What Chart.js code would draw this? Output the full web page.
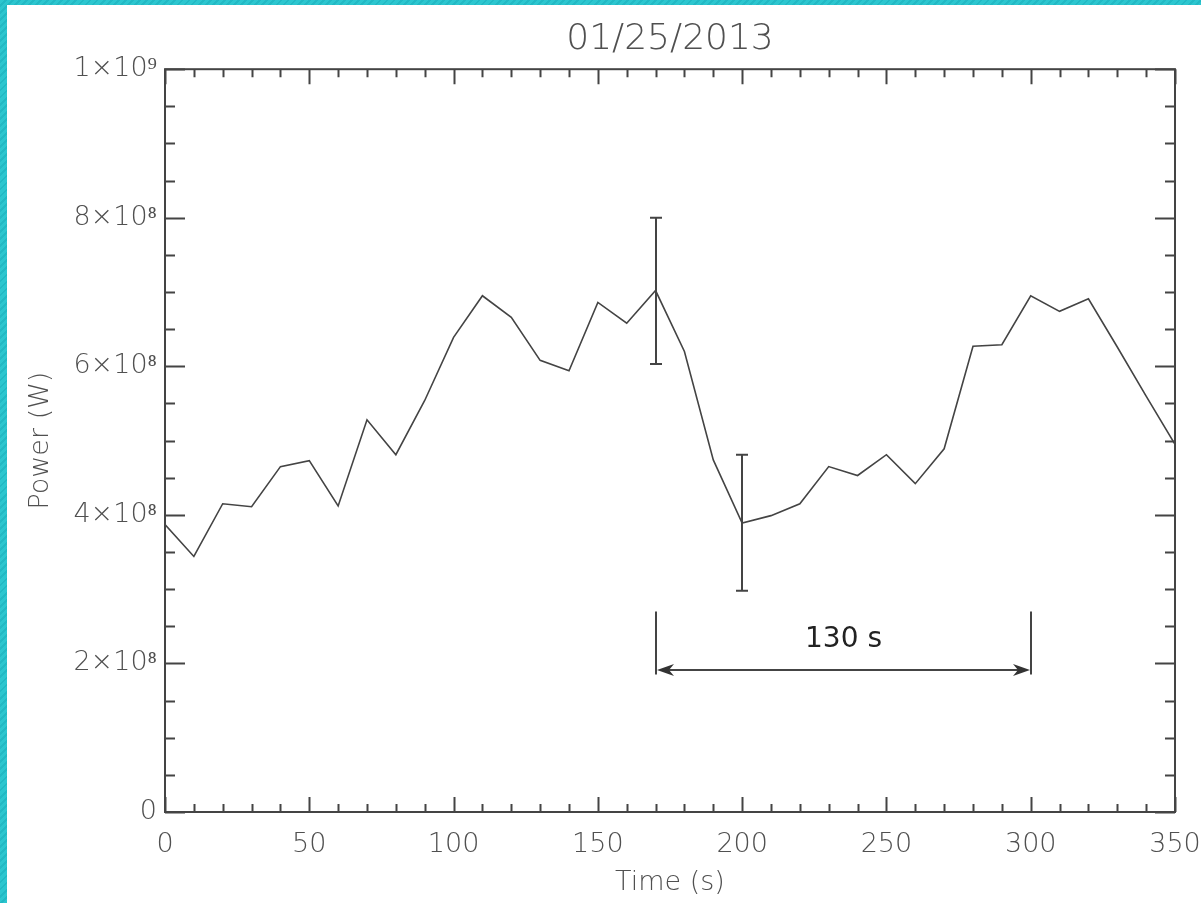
<!DOCTYPE html>
<html>
<head>
<meta charset="utf-8">
<script src="https://cdn.jsdelivr.net/npm/chart.js@4.4.1/dist/chart.umd.min.js"></script>
<style>
    html, body { margin: 0; padding: 0; background: #ffffff; }
    #wrap { position: relative; width: 1201px; height: 903px; overflow: hidden; }
    #powerChart { position: absolute; left: 0; top: 0; }
    .edge {
        position: absolute;
        background: repeating-linear-gradient(135deg, #2cc6cf 0px, #2cc6cf 3px, #22b9c4 3px, #22b9c4 5px);
    }
    #edgeLeft { left: 0; top: 0; width: 7px; height: 903px; }
    #edgeTop { left: 0; top: 0; width: 1201px; height: 5px; }
</style>
</head>
<body>
<div id="wrap">
    <canvas id="powerChart" width="1201" height="903"></canvas>
    <div class="edge" id="edgeLeft"></div>
    <div class="edge" id="edgeTop"></div>
</div>
<script>
// time in seconds, power in watts
var times = [0, 10, 20, 30, 40, 50, 60, 70, 80, 90,
             100, 110, 120, 130, 140, 150, 160, 170, 180, 190,
             200, 210, 220, 230, 240, 250, 260, 270, 280, 290,
             300, 310, 320, 330, 340, 350];
var power = [3.87e8, 3.44e8, 4.15e8, 4.11e8, 4.65e8, 4.73e8, 4.12e8, 5.28e8, 4.81e8, 5.54e8,
             6.39e8, 6.95e8, 6.66e8, 6.08e8, 5.94e8, 6.86e8, 6.58e8, 7.02e8, 6.20e8, 4.74e8,
             3.89e8, 3.99e8, 4.15e8, 4.65e8, 4.53e8, 4.81e8, 4.42e8, 4.89e8, 6.27e8, 6.29e8,
             6.95e8, 6.74e8, 6.91e8, 6.26e8, 5.60e8, 4.95e8];

// error bars
var errTimes = [170, 200];
var errLow   = [6.03e8, 2.98e8];
var errHigh  = [8.00e8, 4.81e8];

// period marker
var spanStart = 170;
var spanEnd = 300;
var spanLabel = "130 s";
var spanArrowY = 1.91e8;
var spanTopY = 2.70e8;
var spanBottomY = 1.85e8;
var spanTextY = 2.32e8;

var xTickValues = [0, 50, 100, 150, 200, 250, 300, 350];
var xTickLabels = ["0", "50", "100", "150", "200", "250", "300", "350"];
var yTickValues = [0, 2e8, 4e8, 6e8, 8e8, 1e9];
var yTickLabels = ["0", "2×10⁸", "4×10⁸", "6×10⁸", "8×10⁸", "1×10⁹"];

var titleText = "01/25/2013";
var xTitle = "Time (s)";
var yTitle = "Power (W)";

var inkColor = "#444444";
var textColor = "#505050";
var thinFont = "'DejaVu Sans'";

function lookupLabel(values, labels, v) {
    for (var i = 0; i < values.length; i++) {
        if (Math.abs(values[i] - v) < 1e-6 * Math.max(1, Math.abs(v))) {
            return labels[i];
        }
    }
    return "";
}

// frame + inward ticks on all four sides, like the original plot
var framePlugin = {
    id: "frame",
    afterDatasetsDraw: function (chart) {
        var ctx = chart.ctx;
        var area = chart.chartArea;
        var xs = chart.scales.x;
        var ys = chart.scales.y;
        ctx.save();
        ctx.strokeStyle = inkColor;
        ctx.lineWidth = 2;
        ctx.strokeRect(area.left, area.top, area.right - area.left, area.bottom - area.top);

        ctx.beginPath();
        for (var t = 0; t <= 350; t += 10) {
            var px = Math.round(xs.getPixelForValue(t)) + 0.5;
            var len = (t % 50 == 0) ? 15 : 8;
            ctx.moveTo(px, area.bottom);
            ctx.lineTo(px, area.bottom - len);
            ctx.moveTo(px, area.top);
            ctx.lineTo(px, area.top + len);
        }
        for (var v = 0; v <= 1e9 + 1; v += 0.5e8) {
            var py = Math.round(ys.getPixelForValue(v)) + 0.5;
            var major = Math.abs(v / 2e8 - Math.round(v / 2e8)) < 1e-6;
            var ylen = major ? 20 : 10;
            ctx.moveTo(area.left, py);
            ctx.lineTo(area.left + ylen, py);
            ctx.moveTo(area.right, py);
            ctx.lineTo(area.right - ylen, py);
        }
        ctx.stroke();
        ctx.restore();
    }
};

function drawArrowHead(ctx, tipX, tipY, dir) {
    // dir = 1 points right, -1 points left
    ctx.beginPath();
    ctx.moveTo(tipX, tipY);
    ctx.lineTo(tipX - dir * 17, tipY - 6);
    ctx.lineTo(tipX - dir * 12, tipY);
    ctx.lineTo(tipX - dir * 17, tipY + 6);
    ctx.closePath();
    ctx.fill();
}

var markPlugin = {
    id: "marks",
    afterDatasetsDraw: function (chart) {
        var ctx = chart.ctx;
        var xs = chart.scales.x;
        var ys = chart.scales.y;
        ctx.save();
        ctx.strokeStyle = inkColor;
        ctx.fillStyle = "#333333";
        ctx.lineWidth = 2;

        // error bars
        for (var i = 0; i < errTimes.length; i++) {
            var ex = Math.round(xs.getPixelForValue(errTimes[i]));
            var y1 = ys.getPixelForValue(errLow[i]);
            var y2 = ys.getPixelForValue(errHigh[i]);
            ctx.beginPath();
            ctx.moveTo(ex, y1);
            ctx.lineTo(ex, y2);
            ctx.moveTo(ex - 6, y1);
            ctx.lineTo(ex + 6, y1);
            ctx.moveTo(ex - 6, y2);
            ctx.lineTo(ex + 6, y2);
            ctx.stroke();
        }

        // period marker
        var sx = Math.round(xs.getPixelForValue(spanStart));
        var fx = Math.round(xs.getPixelForValue(spanEnd));
        var top = ys.getPixelForValue(spanTopY);
        var bot = ys.getPixelForValue(spanBottomY);
        var ay = Math.round(ys.getPixelForValue(spanArrowY));
        ctx.beginPath();
        ctx.moveTo(sx, top);
        ctx.lineTo(sx, bot);
        ctx.moveTo(fx, top);
        ctx.lineTo(fx, bot);
        ctx.moveTo(sx + 10, ay);
        ctx.lineTo(fx - 10, ay);
        ctx.stroke();
        drawArrowHead(ctx, sx + 1, ay, -1);
        drawArrowHead(ctx, fx - 1, ay, 1);

        ctx.font = "28px 'DejaVu Sans'";
        ctx.fillStyle = "#222222";
        ctx.textAlign = "center";
        ctx.textBaseline = "middle";
        ctx.fillText(spanLabel, (sx + fx) / 2, ys.getPixelForValue(spanTextY));
        ctx.restore();
    }
};

function init() {
    var points = [];
    for (var i = 0; i < times.length; i++) {
        points.push({ x: times[i], y: power[i] });
    }

    var ctx = document.getElementById("powerChart").getContext("2d");
    new Chart(ctx, {
        type: "line",
        data: {
            datasets: [{
                label: "Power",
                data: points,
                borderColor: inkColor,
                borderWidth: 1.6,
                pointRadius: 0,
                fill: false,
                tension: 0
            }]
        },
        options: {
            responsive: false,
            animation: false,
            layout: {
                padding: { top: 0, right: 26, bottom: 0, left: 0 }
            },
            plugins: {
                legend: { display: false },
                tooltip: { enabled: false },
                title: {
                    display: true,
                    fullSize: false,
                    text: titleText,
                    color: textColor,
                    font: { family: thinFont, size: 36, weight: 200 },
                    padding: { top: 18, bottom: 8 }
                }
            },
            scales: {
                x: {
                    type: "linear",
                    min: 0,
                    max: 350,
                    grid: { display: false, drawTicks: false },
                    border: { display: false },
                    afterBuildTicks: function (scale) {
                        scale.ticks = xTickValues.map(function (v) { return { value: v }; });
                    },
                    afterFit: function (scale) {
                        scale.height = 91;
                        scale.paddingLeft = 0;
                        scale.paddingRight = 0;
                    },
                    ticks: {
                        color: textColor,
                        font: { family: thinFont, size: 27, weight: 200 },
                        padding: 17,
                        maxRotation: 0,
                        callback: function (v) { return lookupLabel(xTickValues, xTickLabels, v); }
                    },
                    title: {
                        display: true,
                        text: xTitle,
                        color: textColor,
                        font: { family: thinFont, size: 27, weight: 200 },
                        padding: { top: 0, bottom: 4 }
                    }
                },
                y: {
                    type: "linear",
                    min: 0,
                    max: 1e9,
                    grid: { display: false, drawTicks: false },
                    border: { display: false },
                    afterBuildTicks: function (scale) {
                        scale.ticks = yTickValues.map(function (v) { return { value: v }; });
                    },
                    afterFit: function (scale) {
                        scale.width = 165;
                        scale.paddingTop = 0;
                        scale.paddingBottom = 0;
                    },
                    ticks: {
                        color: textColor,
                        font: { family: thinFont, size: 27, weight: 200 },
                        padding: 8,
                        callback: function (v) { return lookupLabel(yTickValues, yTickLabels, v); }
                    },
                    title: {
                        display: true,
                        text: yTitle,
                        color: textColor,
                        font: { family: thinFont, size: 27, weight: 200 },
                        padding: { top: 25, bottom: 0 }
                    }
                }
            }
        },
        plugins: [framePlugin, markPlugin]
    });
}
window.onload = init;
</script>
</body>
</html>
